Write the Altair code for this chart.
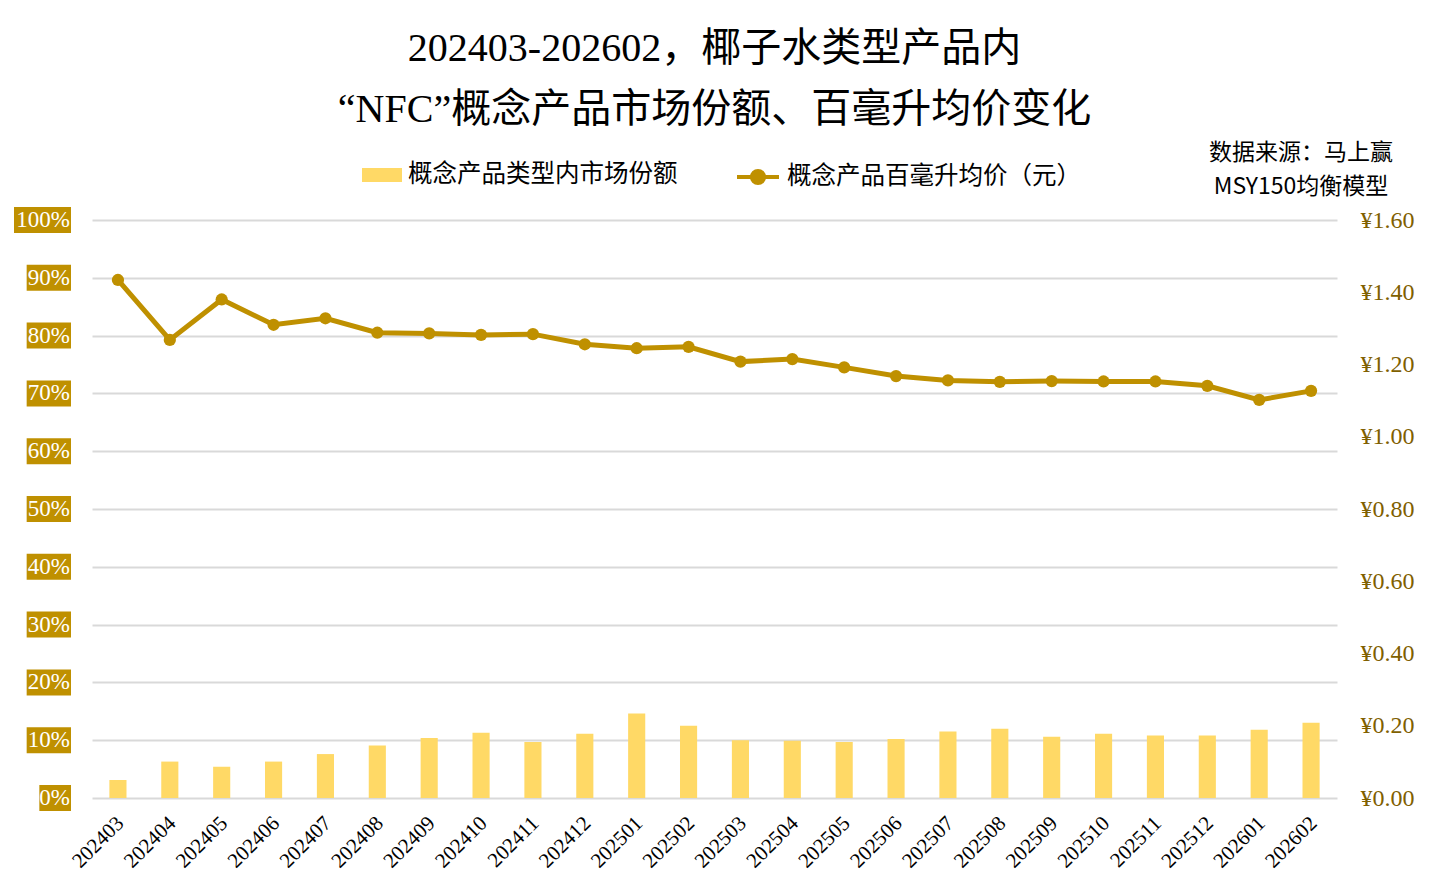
import altair as alt
import pandas as pd

months = ["202403", "202404", "202405", "202406", "202407", "202408", "202409",
          "202410", "202411", "202412", "202501", "202502", "202503", "202504",
          "202505", "202506", "202507", "202508", "202509", "202510", "202511",
          "202512", "202601", "202602"]
share = [0.031, 0.063, 0.054, 0.063, 0.076, 0.091, 0.104, 0.113, 0.097, 0.111,
         0.146, 0.125, 0.100, 0.099, 0.097, 0.102, 0.115, 0.120, 0.106, 0.111,
         0.108, 0.108, 0.118, 0.130]
price = [1.434, 1.268, 1.380, 1.310, 1.328, 1.288, 1.286, 1.282, 1.284, 1.256,
         1.245, 1.249, 1.208, 1.215, 1.192, 1.168, 1.156, 1.152, 1.154, 1.153,
         1.153, 1.141, 1.102, 1.127]
pct_ticks = [0.0, 0.1, 0.2, 0.3, 0.4, 0.5, 0.6, 0.7, 0.8, 0.9, 1.0]
pct_labels = ["0%", "10%", "20%", "30%", "40%", "50%", "60%", "70%", "80%", "90%", "100%"]
price_ticks = [0.0, 0.2, 0.4, 0.6, 0.8, 1.0, 1.2, 1.4, 1.6]
bar_name = "概念产品类型内市场份额"
line_name = "概念产品百毫升均价（元）"
title_lines = ["202403-202602，椰子水类型产品内", "“NFC”概念产品市场份额、百毫升均价变化"]
source_text = "数据来源：马上赢\nMSY150均衡模型"

SERIF = "Liberation Serif"
CJK = "Noto Sans CJK SC"
MIX = "Liberation Serif, Noto Sans CJK SC"
GOLD = "#BF9000"
YELLOW = "#FFD966"

df = pd.DataFrame({"month": months, "share": share, "price": price,
                   "bar_s": bar_name, "line_s": line_name})
ldf = pd.DataFrame({"v": pct_ticks, "label": pct_labels})
sdf = pd.DataFrame({"t": [source_text]})

xenc = alt.X("month:N", sort=months,
             scale=alt.Scale(paddingInner=0.67, paddingOuter=0.335),
             axis=alt.Axis(title=None, labelAngle=-45, labelAlign="right",
                           labelBaseline="top", labelPadding=14, labelOffset=-5,
                           domain=False, ticks=False, grid=False, labelFont=SERIF,
                           labelFontSize=21, labelColor="black"))

base = alt.Chart(df)
bars = base.mark_bar().encode(
    x=xenc,
    y=alt.Y("share:Q", scale=alt.Scale(domain=[0, 1]),
            axis=alt.Axis(title=None, labels=False, ticks=False, domain=False,
                          grid=True, values=pct_ticks, gridColor="#D9D9D9",
                          gridWidth=2)),
    color=alt.Color("bar_s:N", scale=alt.Scale(range=[YELLOW]),
                    legend=alt.Legend(title=None, orient="none", legendX=270,
                                      legendY=-65, padding=0,
                                      symbolType="M-1,-0.35H1V0.35H-1Z",
                                      symbolSize=1600, symbolStrokeWidth=0,
                                      labelFont=CJK, labelFontSize=24.5,
                                      labelLimit=400,
                                      labelColor="black", labelOffset=6)),
)

line = base.mark_line(strokeWidth=5, point=alt.OverlayMarkDef(size=150, filled=True, opacity=1)).encode(
    x=alt.X("month:N", sort=months),
    y=alt.Y("price:Q", scale=alt.Scale(domain=[0, 1.6]),
            axis=alt.Axis(title=None, orient="right", values=price_ticks,
                          labelExpr="'¥' + format(datum.value, '.2f')",
                          grid=False, ticks=False, domain=False, labelPadding=23,
                          labelFont=SERIF, labelFontSize=24, labelColor="#7F6000")),
    color=alt.Color("line_s:N", scale=alt.Scale(range=[GOLD]),
                    legend=alt.Legend(title=None, orient="none", legendX=643,
                                      legendY=-66, padding=0,
                                      symbolType="M-1,0H1M-0.29,0A0.29,0.29 0 1,0 0.29,0A0.29,0.29 0 1,0 -0.29,0Z",
                                      symbolSize=1764, symbolStrokeWidth=4,
                                      symbolFillColor=GOLD, symbolStrokeColor=GOLD,
                                      labelFont=CJK, labelFontSize=24.5,
                                      labelLimit=400,
                                      labelColor="black", labelOffset=6)),
)

main = alt.layer(bars, line).resolve_scale(y="independent", color="independent")

lx = alt.Scale(domain=[-4.5, 0], range=[-78, -21])
ly = alt.Scale(domain=[0, 1])
lbase = alt.Chart(ldf).transform_calculate(
    lo="datum.v - 0.0225", hi="datum.v + 0.0225",
    w="-(length(datum.label) + 0.5)", z="0")
lrect = lbase.mark_rect(color=GOLD).encode(
    x=alt.X("w:Q", scale=lx, axis=None), x2="z:Q",
    y=alt.Y("lo:Q", scale=ly, axis=None), y2="hi:Q")
ltext = lbase.mark_text(align="right", baseline="middle", color="white",
                        font=SERIF, fontSize=23, dx=-1).encode(
    x=alt.X("z:Q", scale=lx, axis=None),
    y=alt.Y("v:Q", scale=ly, axis=None),
    text="label:N")
labels = alt.layer(lrect, ltext)

src = alt.Chart(sdf).mark_text(font=CJK, fontSize=23, color="black", align="center",
                               baseline="middle", lineBreak="\n", lineHeight=34).encode(
    x=alt.value(1209), y=alt.value(-67), text="t:N")

chart = alt.layer(main, labels, src).resolve_scale(x="independent", y="independent").properties(
    width=1245, height=578,
    background="white",
    autosize=alt.AutoSizeParams(type="none"),
    padding={"left": 84, "top": 212, "right": 86, "bottom": 82},
    title=alt.Title(text=title_lines, font=MIX, fontSize=40, fontWeight="normal",
                    color="black", anchor="middle", lineHeight=61, frame="group",
                    offset=12),
).configure_view(stroke="transparent", strokeWidth=0).configure_axis(
    domain=False, domainColor="transparent"
)

chart.save("out.html", embed_options={"renderer": "svg", "actions": False})
